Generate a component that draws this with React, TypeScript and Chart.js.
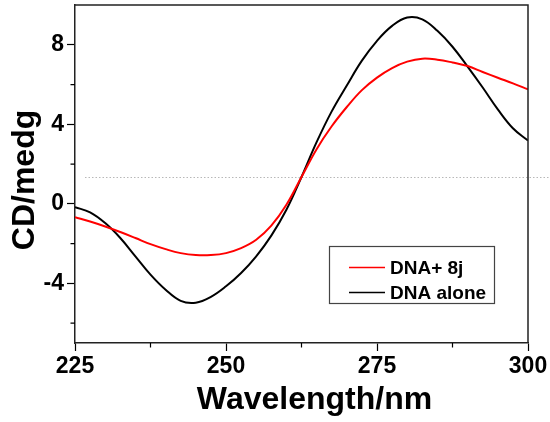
import React, { useEffect, useRef } from "react";
import { Chart, registerables } from "chart.js";

Chart.register(...registerables);

const wavelengths = [
  225, 227.5, 230, 232.5, 235, 237.5, 240, 242.5, 245, 247.5, 250, 252.5, 255, 257.5, 260,
  262.5, 265, 267.5, 270, 272.5, 275, 277.5, 280, 282.5, 285, 287.5, 290, 292.5, 295, 297.5, 300,
];
const dnaPlus8j = [
  -0.67, -0.89, -1.14, -1.42, -1.72, -2.03, -2.28, -2.48, -2.58, -2.58, -2.48, -2.23, -1.81, -1.1, -0.05,
  1.35, 2.75, 3.9, 4.87, 5.72, 6.35, 6.83, 7.15, 7.3, 7.25, 7.11, 6.93, 6.63, 6.34, 6.06, 5.76,
];
const dnaAlone = [
  -0.17, -0.43, -0.97, -1.72, -2.64, -3.56, -4.32, -4.88, -4.97, -4.68, -4.15, -3.48, -2.64, -1.6, -0.3,
  1.35, 3.1, 4.65, 5.95, 7.2, 8.2, 8.95, 9.37, 9.28, 8.7, 7.9, 6.9, 5.85, 4.75, 3.8, 3.18,
];
const seriesLabels = ["DNA+ 8j", "DNA alone"];
const seriesColors = ["#ff0000", "#000000"];
const xTickValues = [225, 237.5, 250, 262.5, 275, 287.5, 300];
const xLabelValues = [225, 250, 275, 300];
const yTickValues = [-6, -4, -2, 0, 2, 4, 6, 8];
const yLabelValues = [-4, 0, 4, 8];
const xRange = [225, 300];
const yRange = [-7, 10];
const refLineValue = 1.36;
const xTitle = "Wavelength/nm";
const yTitle = "CD/medg";

const FONT = "'Liberation Sans', Arial, Helvetica, sans-serif";

const framePlugin = {
  id: "frame",
  beforeDatasetsDraw(chart: any) {
    const { ctx, chartArea, scales } = chart;
    const y = scales.y.getPixelForValue(refLineValue);
    ctx.save();
    ctx.strokeStyle = "#b8b8b8";
    ctx.lineWidth = 1;
    ctx.setLineDash([1.5, 2]);
    ctx.beginPath();
    ctx.moveTo(chartArea.left + 10, Math.round(y) + 0.5);
    ctx.lineTo(chart.width, Math.round(y) + 0.5);
    ctx.stroke();
    ctx.restore();
  },
  afterDraw(chart: any) {
    const { ctx, chartArea, scales } = chart;
    const { left, right, top, bottom } = chartArea;
    ctx.save();
    // top and right border
    ctx.strokeStyle = "#222";
    ctx.lineWidth = 1.5;
    ctx.beginPath();
    ctx.moveTo(left, top);
    ctx.lineTo(right, top);
    ctx.lineTo(right, bottom);
    ctx.stroke();
    // minor ticks
    ctx.strokeStyle = "#000";
    ctx.lineWidth = 1.2;
    ctx.beginPath();
    xTickValues.forEach((v) => {
      if (xLabelValues.includes(v)) return;
      const px = scales.x.getPixelForValue(v);
      ctx.moveTo(px, bottom);
      ctx.lineTo(px, bottom + 4.5);
    });
    yTickValues.forEach((v) => {
      if (yLabelValues.includes(v)) return;
      const py = scales.y.getPixelForValue(v);
      ctx.moveTo(left, py);
      ctx.lineTo(left - 4.5, py);
    });
    ctx.stroke();
    // axis titles
    ctx.fillStyle = "#000";
    ctx.font = `bold 32px ${FONT}`;
    ctx.textAlign = "center";
    ctx.textBaseline = "alphabetic";
    ctx.fillText(xTitle, 314.5, 408.5);
    ctx.save();
    ctx.translate(33.5, 180);
    ctx.rotate(-Math.PI / 2);
    ctx.fillText(yTitle, 0, 0);
    ctx.restore();
    // legend
    const bx = 329, by = 246, bw = 165, bh = 57;
    ctx.strokeStyle = "#444";
    ctx.lineWidth = 1.2;
    ctx.strokeRect(bx + 0.5, by + 0.5, bw, bh);
    chart.data.datasets.forEach((ds: any, i: number) => {
      const ly = by + 21.5 + i * 25;
      ctx.strokeStyle = ds.borderColor;
      ctx.lineWidth = 1.6;
      ctx.beginPath();
      ctx.moveTo(349, ly);
      ctx.lineTo(385, ly);
      ctx.stroke();
      ctx.fillStyle = "#000";
      ctx.font = `bold 19px ${FONT}`;
      ctx.textAlign = "left";
      ctx.textBaseline = "middle";
      ctx.fillText(ds.label, 390, ly + 1);
    });
    ctx.restore();
  },
};

export default function App() {
  const canvasRef = useRef<HTMLCanvasElement | null>(null);

  useEffect(() => {
    const canvas = canvasRef.current;
    if (!canvas) return;
    const chart = new Chart(canvas, {
      type: "line",
      data: {
        labels: wavelengths,
        datasets: [
          {
            label: seriesLabels[0],
            data: wavelengths.map((x, i) => ({ x, y: dnaPlus8j[i] })),
            borderColor: seriesColors[0],
            borderWidth: 2,
            pointRadius: 0,
            tension: 0.4,
            fill: false,
          },
          {
            label: seriesLabels[1],
            data: wavelengths.map((x, i) => ({ x, y: dnaAlone[i] })),
            borderColor: seriesColors[1],
            borderWidth: 2,
            pointRadius: 0,
            tension: 0.4,
            fill: false,
          },
        ],
      },
      options: {
        animation: false,
        responsive: false,
        devicePixelRatio: 1,
        layout: { padding: { top: 5, right: 22, left: 0, bottom: 0 } },
        plugins: {
          legend: { display: false },
          tooltip: { enabled: false },
          title: { display: false },
        },
        scales: {
          x: {
            type: "linear",
            min: xRange[0],
            max: xRange[1],
            afterBuildTicks: (scale: any) => {
              scale.ticks = xTickValues.map((v) => ({ value: v }));
            },
            afterFit: (scale: any) => {
              scale.height = 79;
              scale.paddingLeft = 0;
              scale.paddingRight = 0;
            },
            ticks: {
              autoSkip: false,
              maxRotation: 0,
              color: "#000",
              padding: 2,
              font: { family: FONT, size: 23, weight: "bold" },
              callback: (v: any) => (xLabelValues.includes(Number(v)) ? String(v) : ""),
            },
            grid: {
              drawOnChartArea: false,
              drawTicks: true,
              tickLength: 8,
              tickWidth: 1.2,
              tickColor: (c: any) =>
                c.tick && xLabelValues.includes(c.tick.value) ? "#000" : "rgba(0,0,0,0)",
            },
            border: { display: true, color: "#222", width: 1.5 },
          },
          y: {
            type: "linear",
            min: yRange[0],
            max: yRange[1],
            afterBuildTicks: (scale: any) => {
              scale.ticks = yTickValues.map((v) => ({ value: v }));
            },
            afterFit: (scale: any) => {
              scale.width = 75;
              scale.paddingTop = 0;
              scale.paddingBottom = 0;
            },
            ticks: {
              autoSkip: false,
              color: "#000",
              padding: 3,
              font: { family: FONT, size: 23, weight: "bold" },
              callback: (v: any) => (yLabelValues.includes(Number(v)) ? String(v) : ""),
            },
            grid: {
              drawOnChartArea: false,
              drawTicks: true,
              tickLength: 8,
              tickWidth: 1.2,
              tickColor: (c: any) =>
                c.tick && yLabelValues.includes(c.tick.value) ? "#000" : "rgba(0,0,0,0)",
            },
            border: { display: true, color: "#222", width: 1.5 },
          },
        },
      },
      plugins: [framePlugin],
    } as any);
    return () => chart.destroy();
  }, []);

  return (
    <div style={{ position: "absolute", left: 0, top: 0, width: 550, height: 422, background: "#fff" }}>
      <canvas ref={canvasRef} width={550} height={422} style={{ display: "block", width: 550, height: 422 }} />
    </div>
  );
}
